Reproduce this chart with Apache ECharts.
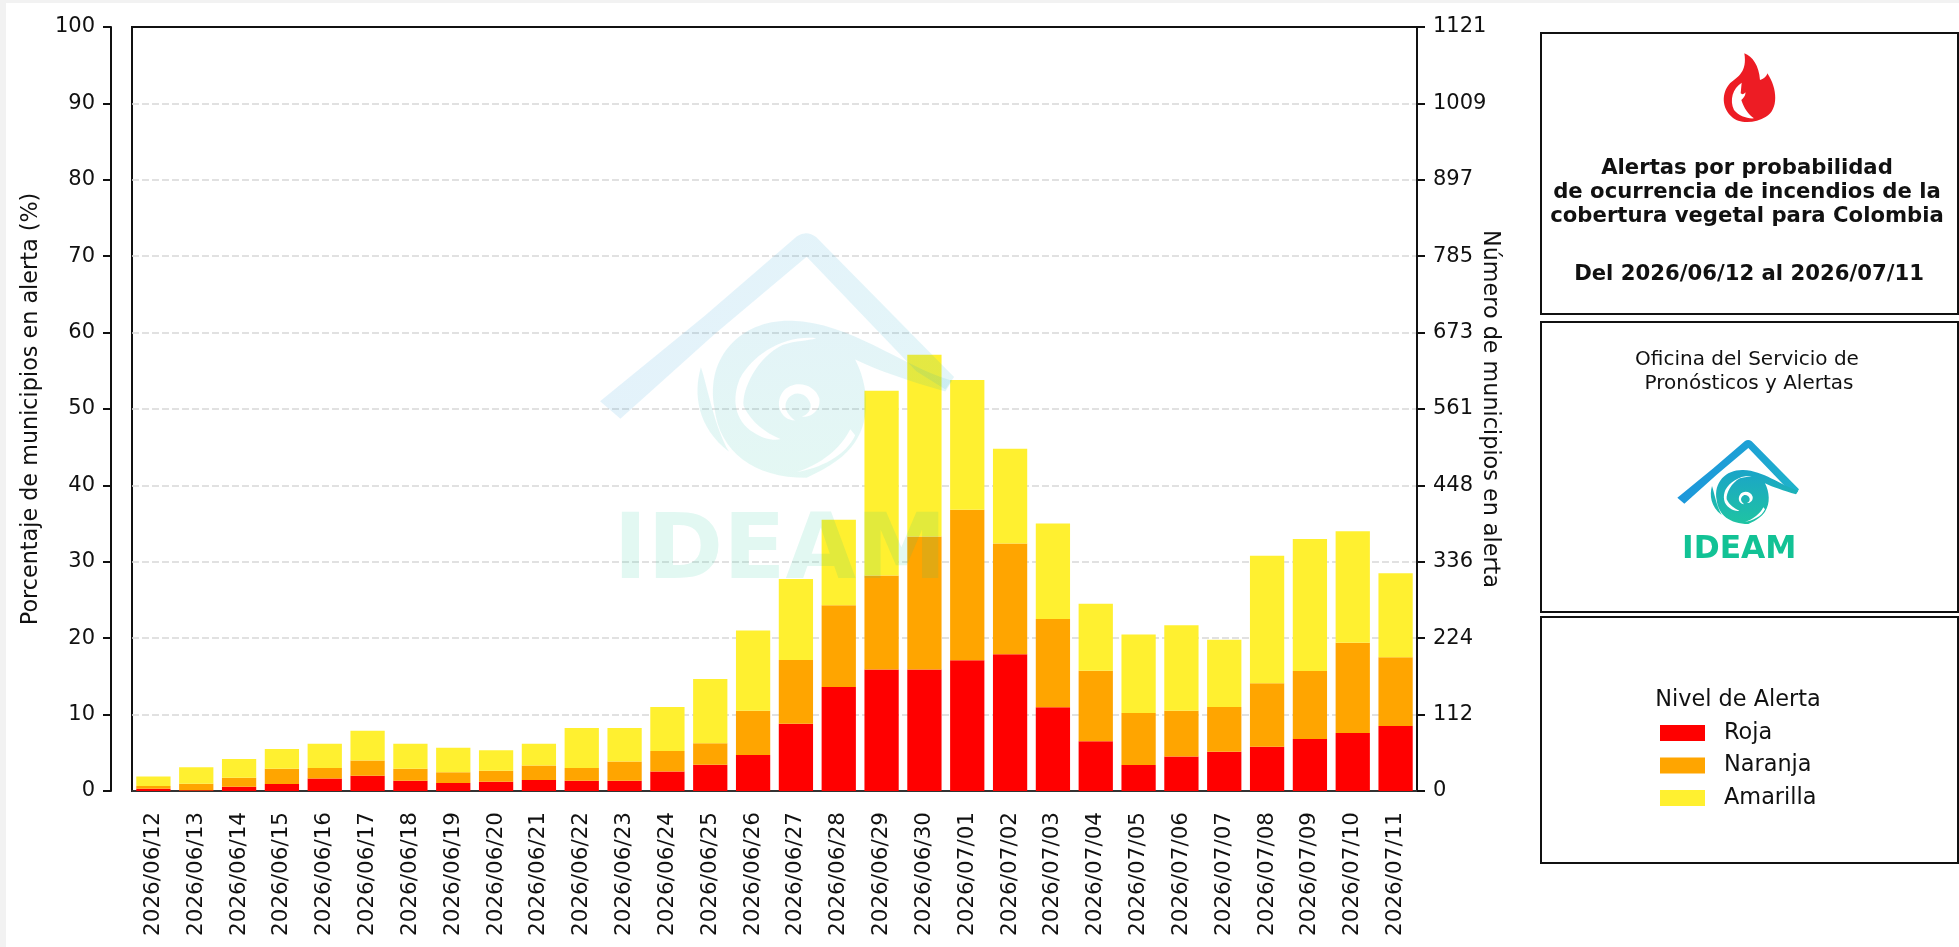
<!DOCTYPE html>
<html>
<head>
<meta charset="utf-8">
<style>
html,body{margin:0;padding:0;background:#f2f2f2;overflow:hidden}
#sheet{position:absolute;left:6px;top:3px;width:1953px;height:944px;background:#fff}
#main{position:absolute;left:0;top:0;width:1959px;height:947px}
</style>
<script src="https://cdn.jsdelivr.net/npm/echarts@6/dist/echarts.min.js"></script>
</head>
<body>
<div id="sheet"></div>
<div id="main"></div>
<script>
const fechas = ['2026/06/12','2026/06/13','2026/06/14','2026/06/15','2026/06/16','2026/06/17','2026/06/18','2026/06/19','2026/06/20','2026/06/21','2026/06/22','2026/06/23','2026/06/24','2026/06/25','2026/06/26','2026/06/27','2026/06/28','2026/06/29','2026/06/30','2026/07/01','2026/07/02','2026/07/03','2026/07/04','2026/07/05','2026/07/06','2026/07/07','2026/07/08','2026/07/09','2026/07/10','2026/07/11'];
const roja = [0.3,0.1,0.55,0.9,1.65,2.0,1.35,1.05,1.2,1.45,1.35,1.35,2.55,3.45,4.7,8.8,13.6,15.9,15.9,17.1,17.9,10.95,6.5,3.4,4.5,5.15,5.8,6.8,7.6,8.5];
const naranja = [0.35,0.85,1.2,2.0,1.35,2.0,1.55,1.4,1.45,1.9,1.65,2.5,2.7,2.8,5.8,8.35,10.7,12.3,17.4,19.7,14.5,11.55,9.25,6.8,6.0,5.85,8.3,8.9,11.8,9.0];
const amarilla = [1.25,2.15,2.45,2.6,3.2,3.9,3.3,3.2,2.7,2.85,5.25,4.4,5.75,8.4,10.5,10.6,11.2,24.2,23.8,17.0,12.4,12.5,8.75,10.3,11.2,8.8,16.7,17.3,14.6,11.0];
const maxMunicipios = 1121;

const FONT = 'DejaVu Sans';
const INK = '#111';
const chart = echarts.init(document.getElementById('main'), null, {renderer:'canvas'});

let shapeCount = 0;
function pathEl(d, style, z) {
  const name = 'logoShape' + (shapeCount++);
  echarts.graphic.registerShape(name, echarts.graphic.extendPath(d));
  return {type:name, z, silent:true, style};
}

const ROOF = 'M532 293 L640 205 L735 123 Q745 116 755 124 L897 268 L888 281 L858 262 L745 144 L650 224 L553 311 Z';
const SWIRL = 'M650 300 C640 245 680 208 730 210 C790 212 840 255 895 272 L888 283 C850 272 820 262 795 250 C808 275 812 310 795 335 C785 350 770 360 745 372 C690 372 655 345 650 300 Z '
  + 'M755 228 C720 225 690 245 676 270 C668 290 670 312 690 325 C700 332 712 334 718 332 C703 326 688 315 680 298 C678 280 695 247 720 235 C735 230 745 231 755 228 Z '
  + 'M758 290 C753 274 730 270 720 284 C712 296 718 312 733 313 C724 306 720 298 726 290 C733 281 746 285 749 296 C750 302 746 307 740 309 C750 310 760 302 758 290 Z '
  + 'M790 322 C780 342 760 358 735 366 C758 362 785 350 795 328 Z '
  + 'M636 258 C642 275 650 320 665 345 C632 320 628 285 636 258 Z';

function logo(x, y, s, op, z) {
  const blue = new echarts.graphic.LinearGradient(0,0,1,1,[{offset:0,color:'#1c8fe0'},{offset:1,color:'#1fb5c8'}]);
  const sw = new echarts.graphic.LinearGradient(0,0,0,1,[{offset:0,color:'#1ba4c8'},{offset:1,color:'#1fc4a2'}]);
  return {
    type:'group', x, y, scaleX:s, scaleY:s, silent:true,
    children:[
      pathEl(ROOF, {fill:blue, opacity:op}, z),
      pathEl(SWIRL, {fill:sw, opacity:op}, z),
      {type:'text', z, x:546, y:451, silent:true, style:{text:'IDEAM', fill:'#12c295', opacity:op, font:'700 94px "DejaVu Sans"', verticalAlign:'middle'}}
    ]
  };
}

function txt(text, x, y, size, weight, align) {
  return {type:'text', z:60, x, y, silent:true, style:{text, fill:INK, font:(weight||'400')+' '+size+'px "'+FONT+'"', align:align||'center', verticalAlign:'middle'}};
}
function box(y, h) {
  return {type:'rect', z:60, silent:true, shape:{x:1541,y,width:417,height:h}, style:{fill:'#fff', stroke:INK, lineWidth:2}};
}

const graphics = [
  logo(84, 117, 0.97, 0.12, 50),
  box(33,281), box(322,290), box(617,246),
  {type:'group', x:1710, y:45, scaleX:1/3, scaleY:1/3, silent:true, children:[
    pathEl('M103 25 C128 35 147 62 150 105 C160 102 170 95 172 85 C203 130 206 195 168 215 C135 236 85 236 65 215 C36 190 33 145 60 115 C85 95 112 80 103 25 Z', {fill:'#ed1c24'}, 61),
    pathEl('M95 113 C68 130 58 165 72 195 C85 212 112 222 132 220 C115 208 102 190 94 165 C100 160 108 150 106 142 C100 150 95 148 92 145 Z', {fill:'#fff'}, 62)
  ]},
  txt('Alertas por probabilidad',1747,168,21.2,'700'),
  txt('de ocurrencia de incendios de la',1747,192,21.2,'700'),
  txt('cobertura vegetal para Colombia',1747,216,21.2,'700'),
  txt('Del 2026/06/12 al 2026/07/11',1749,274,21.2,'700'),
  txt('Oficina del Servicio de',1747,360,20),
  txt('Pronósticos y Alertas',1749,384,20),
  logo(1500, 400, 1/3, 1, 61),
  txt('Nivel de Alerta',1738,700,22.4)
];

const bar = (name, data, color) => ({
  name, type:'bar', stack:'alerta', data, barWidth:'80%', itemStyle:{color}, emphasis:{disabled:true}, z:3
});

chart.setOption({
  animation:false,
  backgroundColor:'transparent',
  grid:{left:132, right:1959-1417, top:27, bottom:947-791, show:true, borderColor:INK, borderWidth:2, backgroundColor:'transparent'},
  legend:{
    orient:'vertical', left:1660, top:722, padding:0, itemWidth:45, itemHeight:16, itemGap:10.5, z:70, selectedMode:false,
    textStyle:{fontFamily:FONT, fontSize:22.4, color:INK, lineHeight:16, padding:[0,0,0,14]},
    data:['Roja','Naranja','Amarilla'], icon:'rect'
  },
  xAxis:{
    type:'category', data:fechas,
    axisLine:{lineStyle:{color:'#333', width:2}},
    axisTick:{alignWithLabel:true, length:8, lineStyle:{color:INK, width:2}},
    axisLabel:{rotate:90, interval:0, margin:21, fontFamily:FONT, fontSize:21.5, color:INK}
  },
  yAxis:[
    {
      type:'value', min:0, max:100, interval:10, offset:21,
      name:'Porcentaje de municipios en alerta (%)', nameLocation:'middle', nameGap:69,
      nameTextStyle:{fontFamily:FONT, fontSize:22.3, color:INK},
      axisLine:{show:true, lineStyle:{color:INK, width:2}},
      axisTick:{show:true, length:8, lineStyle:{color:INK, width:2}},
      axisLabel:{fontFamily:FONT, fontSize:21, color:INK, margin:16, padding:[8,0,0,0]},
      splitLine:{show:true, showMinLine:false, showMaxLine:false, lineStyle:{color:'#d8d8d8', type:[7,3], width:1.5}}
    },
    {
      type:'value', min:0, max:maxMunicipios, interval:maxMunicipios/10, position:'right',
      name:'Número de municipios en alerta', nameLocation:'middle', nameGap:62, nameRotate:-90, nameMoveOverlap:false,
      nameTextStyle:{fontFamily:FONT, fontSize:22.3, color:INK},
      axisLine:{show:true, lineStyle:{color:INK, width:2}},
      axisTick:{show:true, length:8, lineStyle:{color:INK, width:2}},
      axisLabel:{fontFamily:FONT, fontSize:21, color:INK, margin:16, padding:[8,0,0,0], formatter:v=>String(Math.round(v))},
      splitLine:{show:false}
    }
  ],
  series:[
    bar('Roja', roja, '#ff0000'),
    bar('Naranja', naranja, '#ffa500'),
    bar('Amarilla', amarilla, '#fff030')
  ],
  graphic:{elements:graphics}
});
</script>
</body>
</html>
